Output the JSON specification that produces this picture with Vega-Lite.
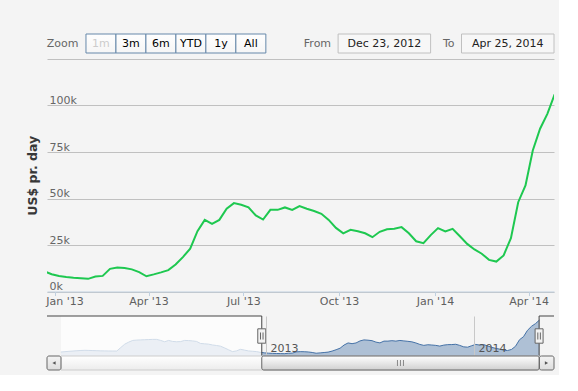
{
  "$schema": "https://vega.github.io/schema/vega-lite/v6.json",
  "background": "#f4f4f4",
  "padding": {"left": 26, "top": 33, "right": 4, "bottom": 4},
  "config": {
    "view": {"stroke": null},
    "font": "DejaVu Sans",
    "text": {"font": "DejaVu Sans"},
    "axis": {"labelFont": "DejaVu Sans", "titleFont": "DejaVu Sans"}
  },
  "datasets": {
    "series": [
      {"date": "2012-01-07", "value": 11800}, {"date": "2012-01-14", "value": 12800}, {"date": "2012-01-21", "value": 13800},
      {"date": "2012-01-28", "value": 14700}, {"date": "2012-02-04", "value": 15500}, {"date": "2012-02-11", "value": 16300},
      {"date": "2012-02-18", "value": 16800}, {"date": "2012-02-25", "value": 16500}, {"date": "2012-03-03", "value": 16000},
      {"date": "2012-03-10", "value": 15600}, {"date": "2012-03-17", "value": 15200}, {"date": "2012-03-24", "value": 15000},
      {"date": "2012-03-31", "value": 14800}, {"date": "2012-04-07", "value": 14700}, {"date": "2012-04-14", "value": 14700},
      {"date": "2012-04-21", "value": 25000}, {"date": "2012-04-28", "value": 35000}, {"date": "2012-05-05", "value": 41000},
      {"date": "2012-05-12", "value": 46000}, {"date": "2012-05-19", "value": 47000}, {"date": "2012-05-26", "value": 47500},
      {"date": "2012-06-02", "value": 48000}, {"date": "2012-06-09", "value": 48500}, {"date": "2012-06-16", "value": 49000},
      {"date": "2012-06-23", "value": 49000}, {"date": "2012-06-30", "value": 46000}, {"date": "2012-07-07", "value": 42000},
      {"date": "2012-07-14", "value": 46000}, {"date": "2012-07-21", "value": 43000}, {"date": "2012-07-28", "value": 42000},
      {"date": "2012-08-04", "value": 42500}, {"date": "2012-08-11", "value": 46000}, {"date": "2012-08-18", "value": 45500},
      {"date": "2012-08-25", "value": 44500}, {"date": "2012-09-01", "value": 43000}, {"date": "2012-09-08", "value": 37000},
      {"date": "2012-09-15", "value": 36000}, {"date": "2012-09-22", "value": 35000}, {"date": "2012-09-29", "value": 32500},
      {"date": "2012-10-06", "value": 31000}, {"date": "2012-10-13", "value": 29000}, {"date": "2012-10-20", "value": 24000},
      {"date": "2012-10-27", "value": 18500}, {"date": "2012-11-03", "value": 13000}, {"date": "2012-11-10", "value": 15000},
      {"date": "2012-11-17", "value": 19700}, {"date": "2012-11-24", "value": 17500}, {"date": "2012-12-01", "value": 15000},
      {"date": "2012-12-08", "value": 14000}, {"date": "2012-12-15", "value": 13000},
      {"date": "2012-12-22", "value": 10800}, {"date": "2012-12-29", "value": 9300}, {"date": "2013-01-05", "value": 8300},
      {"date": "2013-01-12", "value": 7800}, {"date": "2013-01-19", "value": 7400}, {"date": "2013-01-26", "value": 7100},
      {"date": "2013-02-02", "value": 6800}, {"date": "2013-02-09", "value": 8100}, {"date": "2013-02-16", "value": 8400},
      {"date": "2013-02-23", "value": 12200}, {"date": "2013-03-02", "value": 12900}, {"date": "2013-03-09", "value": 12600},
      {"date": "2013-03-16", "value": 11900}, {"date": "2013-03-23", "value": 10400}, {"date": "2013-03-30", "value": 8200},
      {"date": "2013-04-06", "value": 9200}, {"date": "2013-04-13", "value": 10300}, {"date": "2013-04-20", "value": 11500},
      {"date": "2013-04-27", "value": 14500}, {"date": "2013-05-04", "value": 18500}, {"date": "2013-05-11", "value": 23000},
      {"date": "2013-05-18", "value": 32400}, {"date": "2013-05-25", "value": 38500}, {"date": "2013-06-01", "value": 36400},
      {"date": "2013-06-08", "value": 38500}, {"date": "2013-06-15", "value": 44500}, {"date": "2013-06-22", "value": 47500},
      {"date": "2013-06-29", "value": 46600}, {"date": "2013-07-06", "value": 45300}, {"date": "2013-07-13", "value": 40900},
      {"date": "2013-07-20", "value": 38700}, {"date": "2013-07-27", "value": 43900}, {"date": "2013-08-03", "value": 43900},
      {"date": "2013-08-10", "value": 45200}, {"date": "2013-08-17", "value": 43900}, {"date": "2013-08-24", "value": 45900},
      {"date": "2013-08-31", "value": 44500}, {"date": "2013-09-07", "value": 43300}, {"date": "2013-09-14", "value": 41800},
      {"date": "2013-09-21", "value": 38500}, {"date": "2013-09-28", "value": 34200}, {"date": "2013-10-05", "value": 31300},
      {"date": "2013-10-12", "value": 33200}, {"date": "2013-10-19", "value": 32400}, {"date": "2013-10-26", "value": 31300},
      {"date": "2013-11-02", "value": 29200}, {"date": "2013-11-09", "value": 32100}, {"date": "2013-11-16", "value": 33500},
      {"date": "2013-11-23", "value": 33700}, {"date": "2013-11-30", "value": 34600}, {"date": "2013-12-07", "value": 31300},
      {"date": "2013-12-14", "value": 27000}, {"date": "2013-12-21", "value": 26000}, {"date": "2013-12-28", "value": 30300},
      {"date": "2014-01-04", "value": 34100}, {"date": "2014-01-11", "value": 32300}, {"date": "2014-01-18", "value": 33700},
      {"date": "2014-01-25", "value": 29700}, {"date": "2014-02-01", "value": 25600}, {"date": "2014-02-08", "value": 22600},
      {"date": "2014-02-15", "value": 20300}, {"date": "2014-02-22", "value": 17000}, {"date": "2014-03-01", "value": 16100},
      {"date": "2014-03-08", "value": 19400}, {"date": "2014-03-15", "value": 28700}, {"date": "2014-03-22", "value": 48000},
      {"date": "2014-03-29", "value": 57000}, {"date": "2014-04-05", "value": 75800}, {"date": "2014-04-12", "value": 87500},
      {"date": "2014-04-19", "value": 95500}, {"date": "2014-04-26", "value": 106000}
    ]
  },
  "spacing": 6,
  "bounds": "flush",
  "resolve": {"scale": {"x": "independent", "y": "independent"}},
  "vconcat": [
    {
      "width": 507,
      "height": 19,
      "resolve": {"scale": {"x": "independent"}},
      "layer": [
        {
          "data": {"values": [
            {"label": "Zoom", "state": "label"},
            {"label": "1m", "state": "disabled"},
            {"label": "3m", "state": "normal"},
            {"label": "6m", "state": "normal"},
            {"label": "YTD", "state": "normal"},
            {"label": "1y", "state": "normal"},
            {"label": "All", "state": "normal"}
          ]},
          "layer": [
            {
              "transform": [{"filter": "datum.state != 'label'"}],
              "mark": {"type": "rect", "fill": {"gradient": "linear", "x1": 0, "y1": 0, "x2": 0, "y2": 1, "stops": [{"offset": 0, "color": "#fefefe"}, {"offset": 1, "color": "#f6f6f6"}]}, "stroke": "#6688aa", "strokeWidth": 1},
              "encoding": {"x": {"field": "label", "type": "nominal", "scale": {"type": "band", "domain": ["Zoom", "1m", "3m", "6m", "YTD", "1y", "All", "e1", "e2", "e3", "e4", "e5", "e6", "e7", "e8", "e9"], "paddingInner": 0, "paddingOuter": 0.456, "align": 0.3292}, "axis": null}}
            },
            {
              "transform": [{"filter": "datum.state != 'label'"}],
              "mark": {"type": "text", "fontSize": 11},
              "encoding": {
                "x": {"field": "label", "type": "nominal", "scale": {"type": "band", "domain": ["Zoom", "1m", "3m", "6m", "YTD", "1y", "All", "e1", "e2", "e3", "e4", "e5", "e6", "e7", "e8", "e9"], "paddingInner": 0, "paddingOuter": 0.456, "align": 0.3292}, "axis": null},
                "text": {"field": "label"},
                "color": {"condition": {"test": "datum.state == 'disabled'", "value": "#cccccc"}, "value": "#000000"}
              }
            },
            {
              "transform": [{"filter": "datum.state == 'label'"}],
              "mark": {"type": "text", "fontSize": 11, "color": "#666666", "dx": -8.5},
              "encoding": {
                "x": {"field": "label", "type": "nominal", "scale": {"type": "band", "domain": ["Zoom", "1m", "3m", "6m", "YTD", "1y", "All", "e1", "e2", "e3", "e4", "e5", "e6", "e7", "e8", "e9"], "paddingInner": 0, "paddingOuter": 0.456, "align": 0.3292}, "axis": null},
                "text": {"field": "label"}
              }
            }
          ]
        },
        {
          "data": {"values": [
            {"label": "From", "value": "Dec 23, 2012"},
            {"label": "To", "value": "Apr 25, 2014"}
          ]},
          "layer": [
            {
              "mark": {"type": "rect", "fill": "#f7f7f7", "stroke": "#c0c0c0", "strokeWidth": 1},
              "encoding": {"x": {"field": "value", "type": "nominal", "scale": {"type": "band", "domain": ["d1", "d2", "Dec 23, 2012", "Apr 25, 2014"], "paddingInner": 0.2504, "paddingOuter": 0.1795, "align": 1}, "axis": null}}
            },
            {
              "mark": {"type": "text", "fontSize": 11, "color": "#222222"},
              "encoding": {
                "x": {"field": "value", "type": "nominal", "scale": {"type": "band", "domain": ["d1", "d2", "Dec 23, 2012", "Apr 25, 2014"], "paddingInner": 0.2504, "paddingOuter": 0.1795, "align": 1}, "axis": null},
                "text": {"field": "value"}
              }
            },
            {
              "mark": {"type": "text", "fontSize": 11, "color": "#666666", "align": "right", "dx": -7},
              "encoding": {
                "x": {"field": "value", "type": "nominal", "bandPosition": 0, "scale": {"type": "band", "domain": ["d1", "d2", "Dec 23, 2012", "Apr 25, 2014"], "paddingInner": 0.2504, "paddingOuter": 0.1795, "align": 1}, "axis": null},
                "text": {"field": "label"}
              }
            }
          ]
        }
      ]
    },
    {
      "spacing": 24,
      "bounds": "flush",
      "resolve": {"scale": {"x": "independent", "y": "independent"}},
      "vconcat": [
        {
          "width": 507,
          "height": 232.5,
          "data": {"name": "series"},
          "mark": {"type": "line", "color": "#1ec850", "strokeWidth": 2, "clip": true},
          "encoding": {
            "x": {
              "field": "date", "type": "temporal",
              "scale": {"type": "utc", "domain": [{"year": 2012, "month": 12, "date": 24, "hours": 12, "utc": true}, {"year": 2014, "month": 4, "date": 25, "hours": 9, "utc": true}]},
              "axis": {
                "title": null,
                "values": [
                  {"year": 2013, "month": 1, "date": 1, "utc": true},
                  {"year": 2013, "month": 4, "date": 1, "utc": true},
                  {"year": 2013, "month": 7, "date": 1, "utc": true},
                  {"year": 2013, "month": 10, "date": 1, "utc": true},
                  {"year": 2014, "month": 1, "date": 1, "utc": true},
                  {"year": 2014, "month": 4, "date": 1, "utc": true}
                ],
                "format": "%b '%y",
                "grid": false,
                "domainColor": "#c0d0e0",
                "tickColor": "#c0d0e0",
                "tickSize": 4,
                "labelPadding": 0,
                "labelFontSize": 11,
                "labelColor": "#606060",
                "labelFlush": false,
                "labelOverlap": false,
                "labelOffset": {"condition": {"test": "datum.index == 0", "value": 9.6}, "value": 0}
              }
            },
            "y": {
              "field": "value", "type": "quantitative",
              "scale": {"domain": [0, 125000], "nice": false},
              "axis": {
                "title": "US$ pr. day",
                "titleFontSize": 12.5,
                "titleFontWeight": "bold",
                "titleColor": "#383838",
                "titlePadding": 8,
                "values": [0, 25000, 50000, 75000, 100000, 125000],
                "labelExpr": "datum.value >= 125000 ? '' : (datum.value / 1000) + 'k'",
                "grid": true,
                "gridColor": "#c0c0c0",
                "gridWidth": 1,
                "domain": false,
                "ticks": false,
                "tickSize": 0,
                "labelAlign": "left",
                "labelBaseline": "alphabetic",
                "labelPadding": -2,
                "labelOffset": -2,
                "labelFontSize": 11,
                "labelColor": "#666666"
              }
            }
          }
        },
        {
          "spacing": 0,
          "bounds": "flush",
          "resolve": {"scale": {"x": "independent", "y": "independent"}},
          "vconcat": [
            {
              "width": 507,
              "height": 40,
              "layer": [
                {
                  "data": {"name": "series"},
                  "mark": {"type": "area", "color": "#4572a7", "fillOpacity": 0.4, "line": {"color": "#4572a7", "strokeWidth": 1}},
                  "encoding": {
                    "x": {
                      "field": "date", "type": "temporal",
                      "scale": {"type": "utc", "domain": [{"year": 2011, "month": 12, "date": 13, "hours": 11, "utc": true}, {"year": 2014, "month": 5, "date": 21, "hours": 13, "utc": true}]},
                      "axis": {
                        "title": null,
                        "values": [{"year": 2013, "month": 1, "date": 1, "utc": true}, {"year": 2014, "month": 1, "date": 1, "utc": true}],
                        "format": "%Y",
                        "grid": true,
                        "gridColor": "#c8c8c8",
                        "domain": false,
                        "ticks": false,
                        "tickSize": 0,
                        "labelAlign": "left",
                        "labelBaseline": "alphabetic",
                        "labelPadding": -4.5,
                        "labelOffset": 4,
                        "labelFontSize": 11,
                        "labelColor": "#555555",
                        "labelFlush": false,
                        "zindex": 1
                      }
                    },
                    "y": {"field": "value", "type": "quantitative", "scale": {"domain": [0, 118000], "nice": false}, "axis": null}
                  }
                },
                {
                  "data": {"values": [{"from": "2012-01-07T00:00:00Z", "to": "2012-12-24T12:00:00Z"}]},
                  "mark": {"type": "rect", "fill": "#ffffff", "opacity": 0.75},
                  "encoding": {
                    "x": {"field": "from", "type": "temporal", "title": null},
                    "x2": {"field": "to"}
                  }
                },
                {
                  "data": {"values": [
                    {"from": "2011-12-13T11:00:00Z", "to": "2012-12-24T12:00:00Z"},
                    {"from": "2014-04-25T09:00:00Z", "to": "2014-05-21T13:00:00Z"}
                  ]},
                  "mark": {"type": "rule", "color": "#444444", "strokeWidth": 1},
                  "encoding": {
                    "x": {"field": "from", "type": "temporal", "title": null},
                    "x2": {"field": "to"},
                    "y": {"datum": 118000, "axis": null}
                  }
                },
                {
                  "data": {"values": [{"at": "2012-12-24T12:00:00Z"}, {"at": "2014-04-25T09:00:00Z"}]},
                  "mark": {"type": "rule", "color": "#444444", "strokeWidth": 1},
                  "encoding": {"x": {"field": "at", "type": "temporal", "title": null}}
                },
                {
                  "data": {"values": [{"at": "2012-12-24T12:00:00Z"}, {"at": "2014-04-25T09:00:00Z"}]},
                  "mark": {"type": "point", "shape": "M-0.533,-0.96H0.533V0.96H-0.533Z M-0.17,-0.47V0.47 M0.17,-0.47V0.47", "size": 225, "filled": true, "fill": "#f2f2f2", "stroke": "#666666", "strokeWidth": 1, "opacity": 1},
                  "encoding": {"x": {"field": "at", "type": "temporal", "title": null}}
                }
              ]
            },
            {
              "width": 507,
              "height": 14,
              "layer": [
                {
                  "data": {"values": [{"from": "2012-01-07T00:00:00Z", "to": "2014-04-26T00:00:00Z"}]},
                  "mark": {"type": "rect", "fill": {"gradient": "linear", "x1": 0, "y1": 0, "x2": 0, "y2": 1, "stops": [{"offset": 0, "color": "#ffffff"}, {"offset": 1, "color": "#ececec"}]}, "stroke": "#cccccc", "strokeWidth": 1},
                  "encoding": {
                    "x": {"field": "from", "type": "temporal", "scale": {"type": "utc", "domain": [{"year": 2011, "month": 12, "date": 13, "hours": 11, "utc": true}, {"year": 2014, "month": 5, "date": 21, "hours": 13, "utc": true}]}, "axis": null},
                    "x2": {"field": "to"}
                  }
                },
                {
                  "data": {"values": [
                    {"from": "2011-12-13T11:00:00Z", "to": "2012-01-07T00:00:00Z"},
                    {"from": "2014-04-26T00:00:00Z", "to": "2014-05-21T13:00:00Z"}
                  ]},
                  "mark": {"type": "rect", "fill": {"gradient": "linear", "x1": 0, "y1": 0, "x2": 0, "y2": 1, "stops": [{"offset": 0, "color": "#f4f4f4"}, {"offset": 1, "color": "#dddddd"}]}, "stroke": "#666666", "strokeWidth": 1, "cornerRadius": 2},
                  "encoding": {
                    "x": {"field": "from", "type": "temporal", "axis": null},
                    "x2": {"field": "to"}
                  }
                },
                {
                  "data": {"values": [{"from": "2012-12-24T12:00:00Z", "to": "2014-04-25T09:00:00Z"}]},
                  "mark": {"type": "rect", "fill": {"gradient": "linear", "x1": 0, "y1": 0, "x2": 0, "y2": 1, "stops": [{"offset": 0, "color": "#ffffff"}, {"offset": 1, "color": "#d0d0d0"}]}, "stroke": "#666666", "strokeWidth": 1, "cornerRadius": 2},
                  "encoding": {
                    "x": {"field": "from", "type": "temporal", "axis": null},
                    "x2": {"field": "to"}
                  }
                },
                {
                  "data": {"values": [{}]},
                  "mark": {"type": "point", "shape": "M-0.75,-0.75V0.75M0,-0.75V0.75M0.75,-0.75V0.75", "size": 64, "filled": false, "stroke": "#888888", "strokeWidth": 1, "opacity": 1},
                  "encoding": {"x": {"datum": {"year": 2013, "month": 8, "date": 25, "utc": true}, "type": "temporal", "axis": null}}
                },
                {
                  "data": {"values": [{}]},
                  "mark": {"type": "point", "shape": "triangle-left", "size": 14, "filled": true, "color": "#555555", "opacity": 1},
                  "encoding": {"x": {"datum": {"year": 2011, "month": 12, "date": 25, "hours": 18, "utc": true}, "type": "temporal", "axis": null}}
                },
                {
                  "data": {"values": [{}]},
                  "mark": {"type": "point", "shape": "triangle-right", "size": 14, "filled": true, "color": "#555555", "opacity": 1},
                  "encoding": {"x": {"datum": {"year": 2014, "month": 5, "date": 8, "hours": 8, "utc": true}, "type": "temporal", "axis": null}}
                }
              ]
            }
          ]
        }
      ]
    }
  ]
}
